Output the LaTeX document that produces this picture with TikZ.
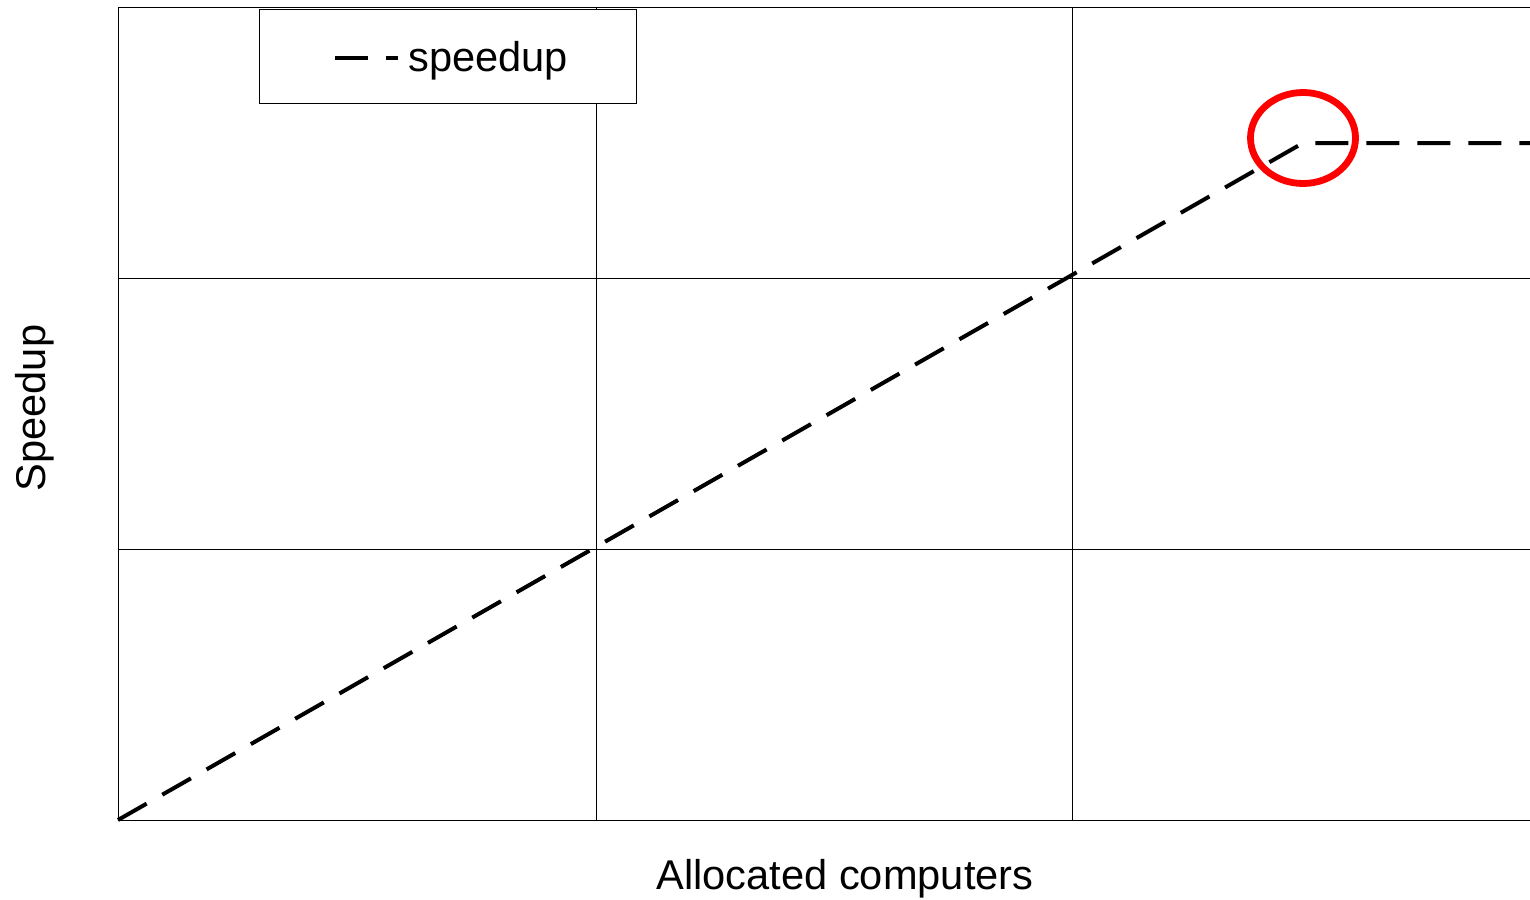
\documentclass[tikz,border=0pt]{standalone}
\usepackage{fontspec}
\setmainfont{Liberation Sans}
\usetikzlibrary{calc,positioning}

\begin{document}
\begin{tikzpicture}[x=0.5pt, y=-0.5pt]
\tikzset{gridline/.style={line width=0.5pt},
curve/.style={line width=2pt,dash pattern=on 16.5pt off 9pt},
axislabel/.style={font=\fontsize{20.8}{25}\selectfont,inner sep=0},
marker/.style={draw=red,line width=3.4pt}}

\useasboundingbox (0,0) rectangle (1530,899);

%% Grid
\foreach \y in {8, 278, 549, 820} \draw[gridline] (118,\y) -- (1530,\y);
\foreach \x in {118, 596, 1072} \draw[gridline] (\x,8) -- (\x,820);

%% Curve
\coordinate (s0) at (118, 820);
\coordinate (s1) at (1303, 143);
\coordinate (s2) at (1530, 143);
\draw[curve] (s0) -- (s1) -- (s2);

\draw[marker] (1303,138) ellipse (52.5 and 45.5);

%% Legend
\node (legend) [draw,line width=0.5pt,fill=white,minimum width=188.5pt,minimum height=47pt,inner sep=0] at (447.5,57) {};
\coordinate (l0) at (335, 58);
\coordinate (l1) at (398, 58);
\draw[curve] (l0) -- (l1);
\node (ltext) [axislabel,anchor=west] at (408, 61) {speedup};

%% Axis labels
\node (xlab) [axislabel] at (845, 879) {Allocated computers};
\node (ylab) [axislabel,rotate=90] at (35, 408) {Speedup};

\end{tikzpicture}
\end{document}
